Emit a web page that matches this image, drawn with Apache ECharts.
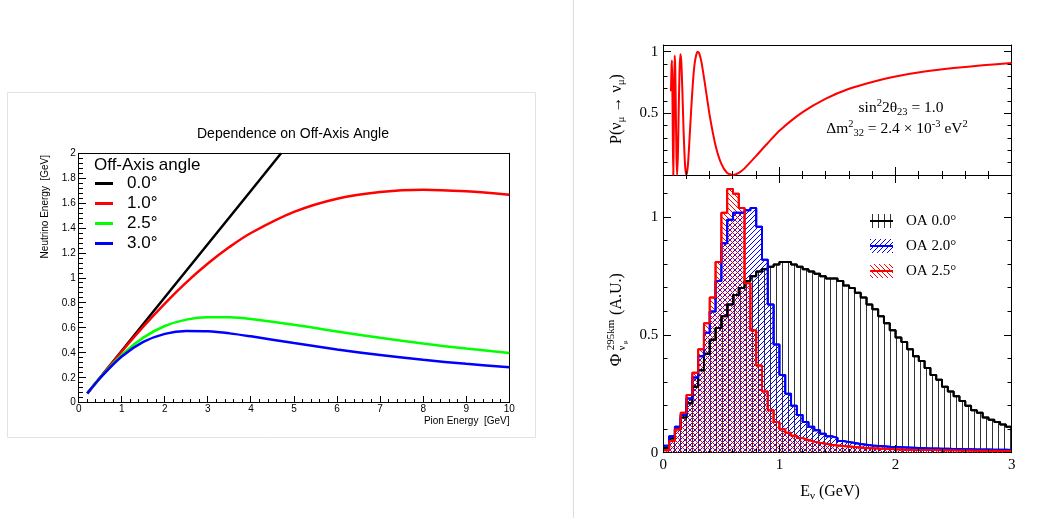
<!DOCTYPE html>
<html><head><meta charset="utf-8">
<script src="https://cdn.jsdelivr.net/npm/echarts@6/dist/echarts.min.js"></script>
<style>html,body{margin:0;padding:0;background:#fff}#c{width:1052px;height:518px;position:absolute;left:0;top:0}#t{width:1052px;height:518px;position:absolute;left:0;top:0;pointer-events:none}</style>
</head><body><div id="c"></div><div id="t"></div>
<script>
// ---------- Left chart: neutrino energy vs pion energy ----------
const angleNames = ['0.0°', '1.0°', '2.5°', '3.0°'];
const onAxisPionE = [0.2, 1, 2, 3, 4, 4.7];
const onAxisNuE   = [0.075, 0.417, 0.845, 1.273, 1.70, 2.0];
const pionE   = [0.2, 0.5, 1, 1.5, 2, 2.5, 3, 3.5, 4, 5, 6, 7, 8, 9, 10];
const nuE_1p0 = [0.075, 0.202, 0.411, 0.610, 0.795, 0.965, 1.116, 1.248, 1.361, 1.530, 1.636, 1.690, 1.708, 1.695, 1.668];
const nuE_2p5 = [0.075, 0.200, 0.383, 0.522, 0.615, 0.666, 0.685, 0.685, 0.672, 0.625, 0.571, 0.520, 0.474, 0.434, 0.399];
const nuE_3p0 = [0.075, 0.198, 0.370, 0.487, 0.552, 0.575, 0.572, 0.556, 0.532, 0.478, 0.427, 0.382, 0.344, 0.312, 0.285];

// ---------- Right top: survival probability ----------
const probE = [0.066,0.071,0.075,0.079,0.083,0.086,0.090,0.094,0.098,0.103,0.108,0.113,0.119,0.126,0.133,0.140,0.147,0.155,0.165,0.175,0.188,0.200,0.212,0.225,0.240,0.255,0.270,0.285,0.296,0.310,0.330,0.360,0.400,0.450,0.500,0.550,0.600,0.650,0.700,0.800,0.900,1.0,1.2,1.4,1.6,1.8,2.0,2.25,2.5,2.75,3.0];
const probP = [0.68,0.88,0.93,0.62,0.20,0.0,0.32,0.75,0.97,0.87,0.52,0.17,0.0,0.18,0.54,0.85,0.98,0.92,0.66,0.35,0.07,0.0,0.08,0.28,0.53,0.75,0.905,0.98,1.0,0.985,0.91,0.73,0.48,0.24,0.09,0.017,0.0,0.018,0.054,0.155,0.26,0.36,0.51,0.62,0.70,0.755,0.80,0.84,0.868,0.89,0.908];

// ---------- Right bottom: flux histograms (bins of 0.05 GeV from 0 to 3) ----------
const binWidth = 0.05;
const fluxOA0p0 = [0.02,0.06,0.10,0.15,0.21,0.28,0.35,0.42,0.48,0.53,0.58,0.63,0.67,0.70,0.73,0.75,0.77,0.78,0.79,0.80,
  0.81,0.81,0.80,0.79,0.78,0.77,0.76,0.75,0.74,0.74,0.73,0.71,0.70,0.68,0.66,0.63,0.61,0.58,0.55,0.52,
  0.49,0.47,0.44,0.41,0.39,0.36,0.33,0.31,0.28,0.26,0.24,0.22,0.20,0.18,0.17,0.15,0.14,0.13,0.12,0.11];
const fluxOA2p0 = [0.03,0.07,0.11,0.16,0.23,0.32,0.41,0.51,0.60,0.73,0.89,0.99,1.02,1.02,1.03,1.04,0.96,0.82,0.63,0.46,
  0.33,0.25,0.20,0.16,0.13,0.11,0.095,0.08,0.07,0.063,0.05,0.045,0.041,0.037,0.034,0.031,0.029,0.027,0.025,0.024,
  0.023,0.022,0.021,0.020,0.019,0.018,0.018,0.017,0.017,0.016,0.016,0.015,0.015,0.014,0.014,0.014,0.013,0.013,0.013,0.012];
const fluxOA2p5 = [0.01,0.05,0.10,0.17,0.245,0.34,0.44,0.55,0.66,0.81,1.02,1.12,1.10,1.04,0.72,0.52,0.37,0.26,0.18,0.13,
  0.10,0.085,0.072,0.062,0.054,0.047,0.042,0.038,0.034,0.031,0.028,0.026,0.024,0.022,0.020,0.019,0.018,0.017,0.016,0.015,
  0.014,0.013,0.013,0.012,0.012,0.011,0.011,0.010,0.010,0.010,0.009,0.009,0.009,0.008,0.008,0.008,0.008,0.007,0.007,0.007];
const fluxNames = ['OA 0.0°', 'OA 2.0°', 'OA 2.5°'];

const pLabelTicks = [0.5, 1];
const fLabelTicks = [0, 0.5, 1];

const SANS = 'Liberation Sans', SERIF = 'Liberation Serif';

function zip(xs, ys) { return xs.map((x, i) => [x, ys[i]]); }
function histPts(vals) {
  const pts = vals.map((v, i) => [+(i * binWidth).toFixed(3), v]);
  pts.push([+(vals.length * binWidth).toFixed(3), vals[vals.length - 1]]);
  return pts;
}
function hatch(color, kind) {
  const s = kind === 'v' ? 6 : 5;
  const c = document.createElement('canvas');
  c.width = s; c.height = s;
  const g = c.getContext('2d');
  g.strokeStyle = color; g.lineWidth = 1;
  g.beginPath();
  if (kind === 'v') { g.moveTo(2.5, 0); g.lineTo(2.5, s); }
  else if (kind === '/') {
    g.moveTo(-1, s + 1); g.lineTo(s + 1, -1);
    g.moveTo(-1, 1); g.lineTo(1, -1);
    g.moveTo(s - 1, s + 1); g.lineTo(s + 1, s - 1);
  } else {
    g.moveTo(-1, -1); g.lineTo(s + 1, s + 1);
    g.moveTo(s - 1, -1); g.lineTo(s + 1, 1);
    g.moveTo(-1, s - 1); g.lineTo(1, s + 1);
  }
  g.stroke();
  return c;
}
const patBlack = { image: hatch('#333', 'v'), repeat: 'repeat' };
const patBlue = { image: hatch('#0000ff', '/'), repeat: 'repeat' };
const patRed = { image: hatch('#ff0000', '\\'), repeat: 'repeat' };

const blk = '#000';
function frameAxis(grid, pos, min, max) {
  return { gridIndex: grid, type: 'value', position: pos, min: min, max: max,
    axisLine: { show: true, onZero: false, lineStyle: { color: blk, width: 1 } },
    axisTick: { show: false }, axisLabel: { show: false }, splitLine: { show: false } };
}
function labelAxis(grid, pos, min, max, interval, font, fs, margin, custom) {
  const a = { gridIndex: grid, type: 'value', position: pos, min: min, max: max,
    axisLine: { show: true, onZero: false, lineStyle: { color: blk, width: 1 } },
    axisTick: { show: false },
    axisLabel: { show: true, color: '#000', fontFamily: font, fontSize: fs, margin: margin },
    splitLine: { show: false } };
  if (interval) a.interval = interval;
  if (custom) a.axisLabel.customValues = custom;
  return a;
}

const grids = [
  { left: 78.7, top: 153.3, width: 430.6, height: 249.4 },
  { left: 663.3, top: 45, width: 348.4, height: 130 },
  { left: 663.3, top: 175, width: 348.4, height: 277.7 }
];
const xAxis = [
  labelAxis(0, 'bottom', 0, 10, 1, SANS, 10, 2),
  frameAxis(0, 'top', 0, 10),
  frameAxis(1, 'bottom', 0, 3),
  frameAxis(1, 'top', 0, 3),
  labelAxis(2, 'bottom', 0, 3, 1, SERIF, 15, 5),
  frameAxis(2, 'top', 0, 3)
];
const yAxis = [
  labelAxis(0, 'left', 0, 2, 0.2, SANS, 10, 3),
  frameAxis(0, 'right', 0, 2),
  labelAxis(1, 'left', 0, 1.055, null, SERIF, 15, 5, pLabelTicks),
  frameAxis(1, 'right', 0, 1.055),
  labelAxis(2, 'left', 0, 1.18, null, SERIF, 15, 5, fLabelTicks),
  frameAxis(2, 'right', 0, 1.18)
];

const curveColors = ['#000000', '#ff0000', '#00ff00', '#0000ff'];
const curves = [zip(onAxisPionE, onAxisNuE), zip(pionE, nuE_1p0), zip(pionE, nuE_2p5), zip(pionE, nuE_3p0)];
const series = [];
curves.forEach((d, i) => series.push({
  type: 'line', name: angleNames[i], xAxisIndex: 0, yAxisIndex: 0, data: d,
  smooth: i === 0 ? false : 0.35, symbol: 'none',
  lineStyle: { color: curveColors[i], width: 2.5 }, itemStyle: { color: curveColors[i] }
}));
series.push({
  type: 'line', xAxisIndex: 2, yAxisIndex: 2, data: zip(probE, probP), smooth: 0.2,
  symbol: 'none', lineStyle: { color: '#ff0000', width: 2 }
});
const fluxes = [fluxOA0p0, fluxOA2p0, fluxOA2p5];
const pats = [patBlack, patBlue, patRed];
const fluxColors = ['#000000', '#0000ff', '#ff0000'];
fluxes.forEach((f, i) => series.push({
  type: 'line', xAxisIndex: 4, yAxisIndex: 4, data: histPts(f), step: 'end', symbol: 'none',
  lineStyle: { color: fluxColors[i], width: 2 }, areaStyle: { color: pats[i], opacity: 1 }
}));
fluxes.forEach((f, i) => series.push({
  type: 'line', name: fluxNames[i], xAxisIndex: 4, yAxisIndex: 4, data: histPts(f), step: 'end', symbol: 'none',
  lineStyle: { color: fluxColors[i], width: 2 }
}));

const subRich = {
  a: { fontFamily: SERIF, fontSize: 16, color: '#000', lineHeight: 20 },
  s: { fontFamily: SERIF, fontSize: 11, color: '#000', verticalAlign: 'bottom' },
  p: { fontFamily: SERIF, fontSize: 11, color: '#000', verticalAlign: 'top' },
  b: { fontFamily: SERIF, fontSize: 11, color: '#000', verticalAlign: 'bottom' }
};
const annRich = {
  a: { fontFamily: SERIF, fontSize: 15.5, color: '#000', lineHeight: 20 },
  p: { fontFamily: SERIF, fontSize: 10.5, color: '#000', verticalAlign: 'top' },
  b: { fontFamily: SERIF, fontSize: 10.5, color: '#000', verticalAlign: 'bottom' }
};

const legendY = [221, 246, 271];
const graphic = [
  { type: 'rect', silent: true, shape: { x: 7.5, y: 92.5, width: 528, height: 345 },
    style: { fill: 'none', stroke: '#e3e3e3', lineWidth: 1 } },
  { type: 'line', silent: true, shape: { x1: 573.5, y1: 0, x2: 573.5, y2: 518 },
    style: { stroke: '#dddddd', lineWidth: 1 } },
  { type: 'text', x: 293, y: 134, style: { text: 'Dependence on Off-Axis Angle', fontFamily: SANS, fontSize: 14, fill: '#000', align: 'center', verticalAlign: 'middle' } },
  { type: 'text', x: 94, y: 165, style: { text: 'Off-Axis angle', fontFamily: SANS, fontSize: 17, fill: '#000', align: 'left', verticalAlign: 'middle' } },
  { type: 'text', x: 45, y: 155, rotation: Math.PI / 2, style: { text: 'Neutrino Energy  [GeV]', fontFamily: SANS, fontSize: 10, fill: '#000', align: 'right', verticalAlign: 'middle' } },
  { type: 'text', x: 509.5, y: 421, style: { text: 'Pion Energy  [GeV]', fontFamily: SANS, fontSize: 10, fill: '#000', align: 'right', verticalAlign: 'middle' } },
  { type: 'text', x: 617, y: 109, rotation: Math.PI / 2, style: { text: '{a|P(ν}{s|μ}{a| → ν}{s|μ}{a|)}', rich: subRich, align: 'center', verticalAlign: 'middle' } },
  { type: 'text', x: 901, y: 108, style: { text: '{a|sin}{p|2}{a|2θ}{b|23}{a| = 1.0}', rich: annRich, align: 'center', verticalAlign: 'middle' } },
  { type: 'text', x: 897, y: 129, style: { text: '{a|Δm}{p|2}{b|32}{a| = 2.4 × 10}{p|-3}{a| eV}{p|2}', rich: annRich, align: 'center', verticalAlign: 'middle' } },
  { type: 'text', x: 617, y: 360, rotation: Math.PI / 2, style: { text: 'Φ', fontFamily: SERIF, fontSize: 17, fill: '#000', align: 'center', verticalAlign: 'middle' } },
  { type: 'text', x: 611, y: 335, rotation: Math.PI / 2, style: { text: '295km', fontFamily: SERIF, fontSize: 11, fill: '#000', align: 'center', verticalAlign: 'middle' } },
  { type: 'text', x: 622, y: 348, rotation: Math.PI / 2, style: { text: 'ν', fontFamily: SERIF, fontSize: 10, fill: '#000', align: 'center', verticalAlign: 'middle' } },
  { type: 'text', x: 625, y: 342, rotation: Math.PI / 2, style: { text: 'μ', fontFamily: SERIF, fontSize: 7, fill: '#000', align: 'center', verticalAlign: 'middle' } },
  { type: 'text', x: 617, y: 294, rotation: Math.PI / 2, style: { text: '(A.U.)', fontFamily: SERIF, fontSize: 16, fill: '#000', align: 'center', verticalAlign: 'middle' } },
  { type: 'text', x: 830, y: 492, style: { text: '{a|E}{s|ν}{a| (GeV)}', rich: subRich, align: 'center', verticalAlign: 'middle' } }
];
fluxNames.forEach((n, i) => {
  graphic.push({ type: 'rect', shape: { x: 870, y: legendY[i] - 7, width: 23, height: 14 }, style: { fill: pats[i] } });
  graphic.push({ type: 'rect', shape: { x: 870, y: legendY[i] - 1, width: 23, height: 2 }, style: { fill: fluxColors[i] } });
  graphic.push({ type: 'text', x: 906, y: legendY[i], style: { text: n, fontFamily: SERIF, fontSize: 15, fill: '#000', align: 'left', verticalAlign: 'middle' } });
});

const option = {
  animation: false,
  backgroundColor: '#fff',
  grid: grids,
  legend: {
    data: angleNames, orient: 'vertical', left: 95, top: 175, padding: 0,
    itemWidth: 18, itemHeight: 3, itemGap: 3, icon: 'rect', selectedMode: false,
    textStyle: { fontFamily: SANS, fontSize: 17, color: '#000', lineHeight: 17, padding: [0, 0, 0, 9] }
  },
  xAxis: xAxis,
  yAxis: yAxis,
  series: series,
  graphic: graphic
};
const chart = echarts.init(document.getElementById('c'), null, { renderer: 'canvas', width: 1052, height: 518 });
chart.setOption(option);

// ---------- tick marks on a transparent overlay instance (same axis mapping) ----------
function tickList(from, to, minorStep, majorEvery, majLen, minLen) {
  const out = [];
  const n = Math.round((to - from) / minorStep);
  for (let i = 0; i <= n; i++) out.push({ v: from + i * minorStep, len: i % majorEvery === 0 ? majLen : minLen });
  return out;
}
const tickEls = [];
function toPx(axisKey, idx, v, fallback) {
  let p = NaN;
  try { const f = {}; f[axisKey] = idx; p = chart.convertToPixel(f, v); } catch (e) { p = NaN; }
  return (typeof p === 'number' && isFinite(p)) ? p : fallback;
}
function addTicks(gi, xi, yi, xmax, ymax, xt, yt, sides) {
  const g = grids[gi];
  const L = Math.round(g.left), R = Math.round(g.left + g.width), T = Math.round(g.top), B = Math.round(g.top + g.height);
  function bar(x, y, w, h) {
    tickEls.push({ type: 'rect', shape: { x: x, y: y, width: w, height: h }, style: { fill: '#000' } });
  }
  xt.forEach(t => {
    const px = Math.round(toPx('xAxisIndex', xi, t.v, g.left + t.v / xmax * g.width) - 0.5);
    if (sides.bottom) bar(px, B - t.len, 1, t.len);
    if (sides.top) bar(px, T, 1, t.len);
  });
  yt.forEach(t => {
    const py = Math.round(toPx('yAxisIndex', yi, t.v, g.top + g.height - t.v / ymax * g.height) - 0.5);
    if (sides.left) bar(L, py, t.len, 1);
    if (sides.right) bar(R - t.len, py, t.len, 1);
  });
}
addTicks(0, 0, 0, 10, 2, tickList(0, 10, 0.2, 5, 7, 4), tickList(0, 2, 0.04, 5, 7, 4), { bottom: true, left: true });
addTicks(1, 2, 2, 3, 1.055, tickList(0, 3, 0.2, 5, 8, 4), tickList(0, 1, 0.1, 5, 8, 4.5), { bottom: true, left: true, right: true });
addTicks(2, 4, 4, 3, 1.18, tickList(0, 3, 0.2, 5, 8, 4), tickList(0, 1.1, 0.1, 5, 8, 4.5), { bottom: true, top: true, left: true, right: true });
const tickChart = echarts.init(document.getElementById('t'), null, { renderer: 'canvas', width: 1052, height: 518 });
tickChart.setOption({ animation: false, graphic: tickEls });
</script>
</body></html>
